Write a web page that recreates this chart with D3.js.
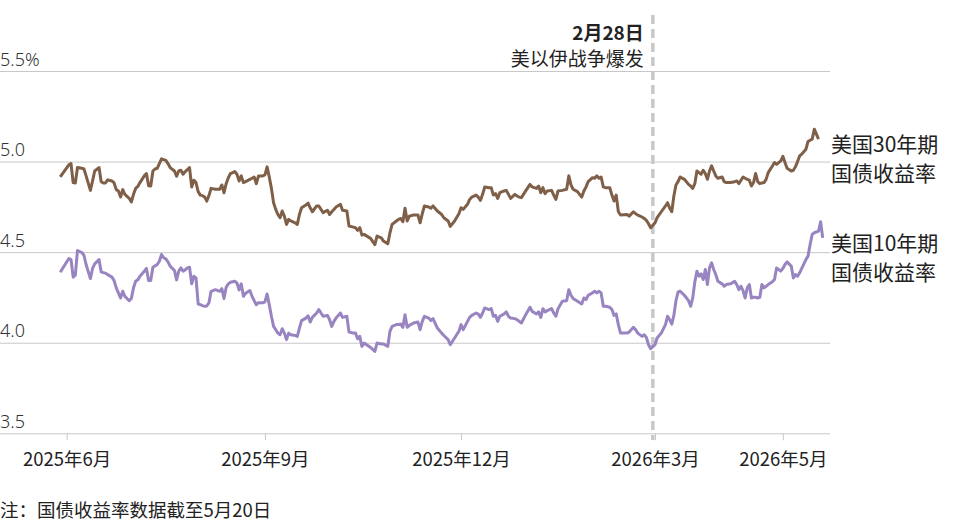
<!DOCTYPE html>
<html>
<head>
<meta charset="utf-8">
<script src="https://cdn.jsdelivr.net/npm/d3@7"></script>
<style>
body { margin: 0; background: #fff; }
svg { display: block; font-family: "Noto Sans CJK SC", "Noto Sans", sans-serif; }
</style>
</head>
<body>
<svg id="chart" width="960" height="528"></svg>
<script>
const dates = ['2025-05-29','2025-06-02','2025-06-03','2025-06-04','2025-06-05','2025-06-06','2025-06-08','2025-06-09','2025-06-10','2025-06-12',
  '2025-06-13','2025-06-14','2025-06-16','2025-06-17','2025-06-18','2025-06-19','2025-06-20','2025-06-22','2025-06-23','2025-06-24',
  '2025-06-25','2025-06-26','2025-06-27','2025-06-28','2025-06-30','2025-07-01','2025-07-02','2025-07-03','2025-07-04','2025-07-05',
  '2025-07-07','2025-07-08','2025-07-09','2025-07-10','2025-07-11','2025-07-12','2025-07-13','2025-07-14','2025-07-15','2025-07-16',
  '2025-07-17','2025-07-18','2025-07-19','2025-07-21','2025-07-22','2025-07-23','2025-07-24','2025-07-25','2025-07-26','2025-07-27',
  '2025-07-28','2025-07-29','2025-07-30','2025-07-31','2025-08-01','2025-08-02','2025-08-03','2025-08-04','2025-08-05','2025-08-06',
  '2025-08-07','2025-08-09','2025-08-11','2025-08-12','2025-08-13','2025-08-14','2025-08-15','2025-08-16','2025-08-18','2025-08-19',
  '2025-08-20','2025-08-21','2025-08-22','2025-08-23','2025-08-25','2025-08-26','2025-08-27','2025-08-28','2025-08-29','2025-08-31',
  '2025-09-01','2025-09-02','2025-09-03','2025-09-04','2025-09-05','2025-09-06','2025-09-07','2025-09-08','2025-09-09','2025-09-10',
  '2025-09-11','2025-09-12','2025-09-13','2025-09-15','2025-09-16','2025-09-17','2025-09-18','2025-09-20','2025-09-21','2025-09-22',
  '2025-09-23','2025-09-25','2025-09-26','2025-09-27','2025-09-28','2025-09-30','2025-10-01','2025-10-02','2025-10-03','2025-10-04',
  '2025-10-06','2025-10-07','2025-10-09','2025-10-10','2025-10-12','2025-10-13','2025-10-14','2025-10-15','2025-10-16','2025-10-17',
  '2025-10-20','2025-10-22','2025-10-23','2025-10-25','2025-10-26','2025-10-28','2025-10-29','2025-10-30','2025-11-01','2025-11-02',
  '2025-11-03','2025-11-04','2025-11-05','2025-11-06','2025-11-07','2025-11-09','2025-11-11','2025-11-12','2025-11-13','2025-11-14',
  '2025-11-16','2025-11-17','2025-11-18','2025-11-20','2025-11-22','2025-11-23','2025-11-25','2025-11-26','2025-11-28','2025-11-30',
  '2025-12-01','2025-12-02','2025-12-04','2025-12-05','2025-12-06','2025-12-08','2025-12-09','2025-12-10','2025-12-11','2025-12-12',
  '2025-12-14','2025-12-15','2025-12-16','2025-12-17','2025-12-18','2025-12-19','2025-12-21','2025-12-22','2025-12-23','2025-12-24',
  '2025-12-26','2025-12-27','2025-12-28','2025-12-29','2025-12-31','2026-01-02','2026-01-03','2026-01-05','2026-01-06','2026-01-07',
  '2026-01-08','2026-01-09','2026-01-10','2026-01-12','2026-01-13','2026-01-14','2026-01-15','2026-01-17','2026-01-19','2026-01-20',
  '2026-01-21','2026-01-22','2026-01-24','2026-01-26','2026-01-27','2026-01-28','2026-01-29','2026-01-31','2026-02-01','2026-02-02',
  '2026-02-03','2026-02-04','2026-02-05','2026-02-06','2026-02-08','2026-02-09','2026-02-10','2026-02-11','2026-02-12','2026-02-13',
  '2026-02-16','2026-02-17','2026-02-19','2026-02-20','2026-02-21','2026-02-23','2026-02-24','2026-02-25','2026-02-26','2026-02-27',
  '2026-03-01','2026-03-02','2026-03-04','2026-03-06','2026-03-07','2026-03-08','2026-03-09','2026-03-10','2026-03-11','2026-03-12',
  '2026-03-13','2026-03-15','2026-03-17','2026-03-18','2026-03-19','2026-03-20','2026-03-21','2026-03-22','2026-03-23','2026-03-24',
  '2026-03-25','2026-03-26','2026-03-27','2026-03-28','2026-03-29','2026-03-30','2026-03-31','2026-04-02','2026-04-03','2026-04-04',
  '2026-04-06','2026-04-08','2026-04-09','2026-04-10','2026-04-11','2026-04-12','2026-04-13','2026-04-14','2026-04-15','2026-04-16',
  '2026-04-17','2026-04-18','2026-04-19','2026-04-20','2026-04-21','2026-04-22','2026-04-23','2026-04-24','2026-04-26','2026-04-27',
  '2026-04-28','2026-04-30','2026-05-01','2026-05-02','2026-05-03','2026-05-05','2026-05-06','2026-05-07','2026-05-08','2026-05-09',
  '2026-05-10','2026-05-12','2026-05-13','2026-05-14','2026-05-15','2026-05-16','2026-05-18','2026-05-19','2026-05-20'];

// 30-year yield, %
const yield30 = [4.915,4.982,4.989,4.884,4.882,4.967,4.963,4.959,4.921,4.841,
  4.893,4.948,4.967,4.889,4.882,4.882,4.899,4.893,4.882,4.845,
  4.838,4.804,4.845,4.819,4.797,4.777,4.819,4.852,4.863,4.884,
  4.921,4.934,4.867,4.865,4.948,4.959,4.963,4.989,5.015,5.011,
  5.007,4.989,4.967,4.948,4.919,4.948,4.952,4.930,4.945,4.956,
  4.967,4.860,4.897,4.884,4.834,4.815,4.812,4.804,4.782,4.812,
  4.852,4.847,4.847,4.871,4.828,4.878,4.911,4.934,4.945,4.930,
  4.893,4.921,4.884,4.889,4.902,4.908,4.915,4.878,4.921,4.921,
  4.926,4.971,4.915,4.852,4.773,4.736,4.708,4.690,4.727,4.699,
  4.653,4.681,4.672,4.662,4.653,4.708,4.745,4.760,4.771,4.745,
  4.723,4.755,4.755,4.736,4.718,4.731,4.708,4.723,4.736,4.749,
  4.764,4.731,4.727,4.644,4.638,4.635,4.620,4.635,4.594,4.598,
  4.576,4.542,4.589,4.579,4.561,4.546,4.607,4.653,4.672,4.681,
  4.686,4.668,4.742,4.672,4.699,4.705,4.705,4.662,4.712,4.755,
  4.749,4.742,4.755,4.727,4.708,4.690,4.672,4.642,4.672,4.712,
  4.745,4.736,4.764,4.791,4.804,4.815,4.804,4.786,4.819,4.860,
  4.856,4.856,4.815,4.823,4.797,4.828,4.838,4.841,4.819,4.797,
  4.819,4.810,4.804,4.801,4.838,4.874,4.860,4.852,4.865,4.828,
  4.856,4.823,4.838,4.841,4.815,4.791,4.838,4.841,4.847,4.921,
  4.871,4.847,4.834,4.804,4.838,4.860,4.889,4.911,4.908,4.921,
  4.908,4.915,4.860,4.856,4.856,4.815,4.782,4.815,4.723,4.705,
  4.708,4.699,4.723,4.712,4.705,4.694,4.686,4.675,4.657,4.635,
  4.662,4.690,4.723,4.755,4.773,4.742,4.723,4.810,4.871,4.889,
  4.915,4.902,4.874,4.865,4.852,4.878,4.948,4.939,4.930,4.952,
  4.934,4.902,4.948,4.976,4.948,4.921,4.908,4.915,4.889,4.884,
  4.884,4.889,4.893,4.878,4.897,4.915,4.908,4.902,4.897,4.865,
  4.884,4.934,4.889,4.878,4.882,4.884,4.902,4.939,4.976,4.995,
  4.985,5.004,5.029,4.995,4.963,4.948,4.952,4.971,5.000,5.031,
  5.041,5.068,5.111,5.118,5.124,5.179,5.124,null,null];

// 10-year yield, %
const yield10 = [4.389,4.465,4.459,4.362,4.373,4.509,4.498,4.483,4.432,4.354,
  4.410,4.435,4.459,4.391,4.387,4.384,4.376,4.362,4.343,4.303,
  4.275,4.247,4.284,4.256,4.232,4.244,4.303,4.339,4.347,4.367,
  4.395,4.410,4.343,4.343,4.417,4.424,4.432,4.450,4.487,4.469,
  4.463,4.446,4.423,4.399,4.347,4.395,4.413,4.395,4.402,4.413,
  4.417,4.325,4.367,4.358,4.214,4.210,4.205,4.201,4.203,4.220,
  4.284,4.293,4.284,4.299,4.244,4.306,4.325,4.334,4.339,4.330,
  4.291,4.325,4.256,4.273,4.288,4.256,4.232,4.210,4.221,4.220,
  4.225,4.269,4.210,4.146,4.090,4.072,4.053,4.044,4.077,4.053,
  4.017,4.053,4.044,4.040,4.035,4.081,4.122,4.136,4.149,4.114,
  4.140,4.164,4.183,4.164,4.146,4.151,4.127,4.090,4.118,4.136,
  4.164,4.140,4.146,4.059,4.053,4.053,4.022,4.035,3.980,3.998,
  3.974,3.952,3.998,3.993,3.993,3.980,4.063,4.090,4.100,4.100,
  4.103,4.085,4.155,4.085,4.096,4.109,4.114,4.072,4.118,4.146,
  4.136,4.122,4.133,4.081,4.053,4.040,4.017,3.989,4.026,4.063,
  4.100,4.072,4.118,4.140,4.151,4.164,4.158,4.140,4.164,4.192,
  4.183,4.188,4.146,4.151,4.118,4.146,4.159,4.170,4.146,4.136,
  4.133,4.127,4.118,4.109,4.155,4.196,4.173,4.159,4.170,4.140,
  4.188,4.170,4.177,4.188,4.164,4.146,4.188,4.229,4.232,4.293,
  4.262,4.244,4.229,4.214,4.247,4.238,4.262,4.275,4.284,4.275,
  4.284,4.275,4.201,4.201,4.196,4.183,4.151,4.159,4.100,4.053,
  4.053,4.059,4.085,4.072,4.053,4.035,4.044,4.029,3.989,3.967,
  3.989,4.026,4.053,4.100,4.146,4.127,4.103,4.151,4.232,4.280,
  4.284,4.262,4.232,4.201,4.247,4.336,4.395,4.367,4.380,4.349,
  4.404,4.321,4.413,4.441,4.404,4.376,4.339,4.325,4.312,4.321,
  4.325,4.339,4.321,4.293,4.312,4.288,4.247,4.303,4.321,4.247,
  4.251,4.251,4.247,4.251,4.321,4.303,4.312,4.321,4.336,4.349,
  4.413,4.395,4.410,4.432,4.446,4.423,4.358,4.376,4.367,4.386,
  4.410,4.459,4.478,4.542,4.598,4.607,4.616,4.668,4.579];

const yTicks = [3.5, 4.0, 4.5, 5.0, 5.5];
const xTicks = ['2025-06-01', '2025-09-01', '2025-12-01', '2026-03-01', '2026-05-01'];
const xTickLabels = ['2025年6月', '2025年9月', '2025年12月', '2026年3月', '2026年5月'];
const eventDate = '2026-02-28';
const eventLabels = ['2月28日', '美以伊战争爆发'];
const seriesLabels = [['美国30年期', '国债收益率'], ['美国10年期', '国债收益率']];
const note = '注：国债收益率数据截至5月20日';

const colors = ['#7f5f48', '#9884c0'];

var parse = d3.timeParse('%Y-%m-%d');
var chart = d3.select('#chart');

var x = d3.scaleTime()
    .domain([parse('2025-06-01'), parse('2026-03-01'), parse('2026-05-20')])
    .range([66.7, 655, 822.7]);
var y = d3.scaleLinear().domain([3.5, 5.5]).range([433.3, 71]);

// gridlines + y labels
chart.append('g')
    .call(d3.axisRight(y).tickValues(yTicks).tickSize(830)
        .tickFormat(function (d) { return d === 5.5 ? '5.5%' : d3.format('.1f')(d); }))
    .attr('font-family', null).attr('font-size', null)
    .call(function (g) { g.select('.domain').remove(); })
    .call(function (g) { g.selectAll('line').attr('stroke', '#c8c8c8'); })
    .call(function (g) {
        g.selectAll('text')
            .attr('x', 0).attr('y', -6).attr('dy', 0)
            .attr('text-anchor', 'start')
            .style('font-family', '"Noto Sans", sans-serif')
            .style('font-weight', 300)
            .style('font-size', '18px')
            .style('fill', '#333');
    });

// x axis
chart.append('g')
    .attr('transform', 'translate(0,' + y(3.5) + ')')
    .call(d3.axisBottom(x).tickValues(xTicks.map(parse)).tickSize(7).tickPadding(13)
        .tickFormat(function (d, i) { return xTickLabels[i]; }))
    .attr('font-family', null).attr('font-size', null)
    .call(function (g) { g.select('.domain').remove(); })
    .call(function (g) { g.selectAll('line').attr('stroke', '#c8c8c8'); })
    .call(function (g) {
        g.selectAll('text').style('font-size', '18.5px').style('fill', '#222');
    });

// event marker
var ex = x(parse(eventDate));
chart.append('line')
    .attr('x1', ex).attr('x2', ex)
    .attr('y1', 15).attr('y2', 440)
    .attr('stroke', '#c8c8c8')
    .attr('stroke-width', 3.5)
    .attr('stroke-dasharray', '9,5');

chart.selectAll('.event-label')
    .data(eventLabels)
    .enter()
    .append('text')
    .attr('x', ex - 9)
    .attr('y', function (d, i) { return 40 + i * 26; })
    .attr('text-anchor', 'end')
    .style('font-size', '19px')
    .style('font-weight', function (d, i) { return i === 0 ? 700 : 400; })
    .style('fill', '#222')
    .text(function (d) { return d; });

// lines
var series = [yield30, yield10];
var line = d3.line()
    .defined(function (d) { return d[1] != null; })
    .x(function (d) { return x(d[0]); })
    .y(function (d) { return y(d[1]); });

chart.selectAll('.series')
    .data(series)
    .enter()
    .append('path')
    .attr('fill', 'none')
    .attr('stroke', function (d, i) { return colors[i]; })
    .attr('stroke-width', 3)
    .attr('stroke-linejoin', 'round')
    .attr('d', function (vals) {
        return line(dates.map(function (d, i) { return [parse(d), vals[i]]; }));
    });

// series labels
var labelTop = [152, 251];
seriesLabels.forEach(function (lines, s) {
    chart.selectAll('.lab' + s)
        .data(lines)
        .enter()
        .append('text')
        .attr('x', 831)
        .attr('y', function (d, i) { return labelTop[s] + i * 29; })
        .style('font-size', '21px')
        .style('fill', '#222')
        .text(function (d) { return d; });
});

// note
chart.append('text')
    .attr('x', 0)
    .attr('y', 517)
    .style('font-size', '18.5px')
    .style('fill', '#222')
    .text(note);
</script>
</body>
</html>
